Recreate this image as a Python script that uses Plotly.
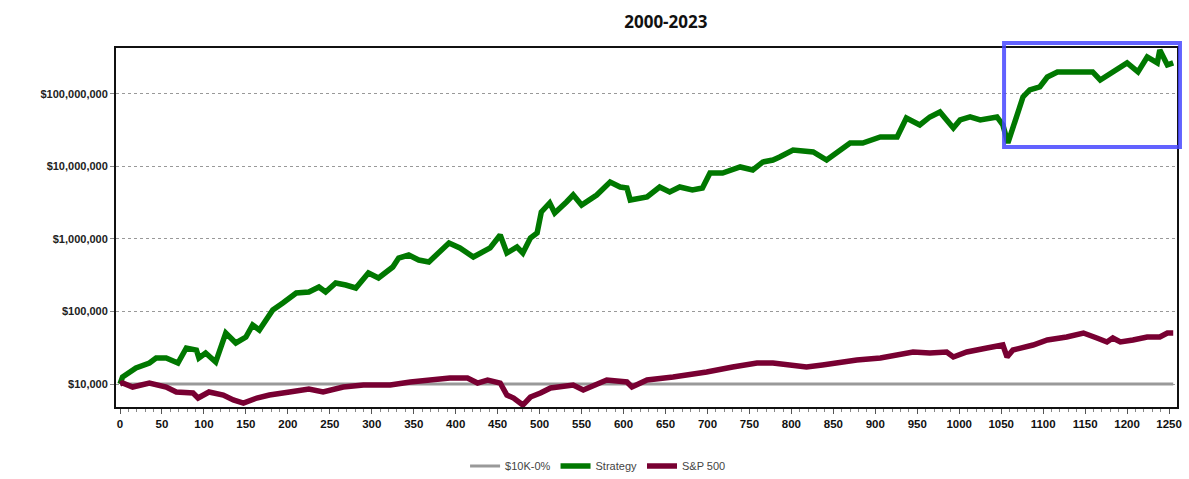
import plotly.graph_objects as go

# ---- data ----
strategy_x = [0, 3, 19, 35, 43, 55, 69, 79, 91, 94,
              102, 114, 126, 138, 150, 158, 166, 182, 194, 210,
              225, 237, 245, 257, 269, 281, 296, 308, 325, 332,
              344, 356, 368, 380, 392, 405, 421, 441, 453, 461,
              473, 480, 489, 497, 502, 512, 518, 532, 540, 550,
              568, 584, 596, 604, 608, 628, 643, 655, 667, 682,
              694, 703, 718, 739, 754, 766, 778, 786, 802, 826,
              842, 870, 885, 906, 926, 937, 953, 965, 977, 993,
              1001, 1013, 1025, 1045, 1052, 1058, 1064, 1072, 1076, 1084,
              1096, 1105, 1117, 1136, 1159, 1168, 1183, 1200, 1213, 1224,
              1236, 1239, 1248, 1255]
strategy_y = [10000, 12500, 16600, 19500, 22800, 22800, 19500, 31400, 29400, 22800,
              26800, 20100, 50500, 36800, 44500, 65100, 55600, 105000, 131000, 180000,
              186000, 218000, 186000, 247000, 232000, 211000, 340000, 290000, 411000, 547000,
              601000, 513000, 482000, 641000, 881000, 752000, 565000, 752000, 1136000, 641000,
              776000, 641000, 1032000, 1210000, 2357000, 3138000, 2284000, 3238000, 4045000, 2944000,
              4045000, 6113000, 5214000, 5051000, 3451000, 3796000, 5214000, 4449000, 5214000, 4742000,
              5051000, 8135000, 8135000, 9842000, 8946000, 11540000, 12290000, 13520000, 16890000, 15850000,
              12290000, 21090000, 21090000, 25530000, 25530000, 46670000, 37360000, 48170000, 56460000, 33960000,
              43800000, 48170000, 43800000, 48170000, 37360000, 21090000, 35050000, 60140000, 90930000, 113600000,
              124900000, 171600000, 201100000, 201100000, 201100000, 156000000, 201100000, 267700000, 201100000, 323800000,
              267700000, 404500000, 251200000, 267700000]

sp_x = [0, 3, 15, 35, 55, 67, 87, 93, 106, 123,
        135, 147, 163, 178, 202, 225, 242, 266, 290, 322,
        346, 370, 393, 414, 426, 438, 453, 461, 469, 480,
        489, 501, 513, 540, 552, 580, 604, 610, 628, 659,
        679, 699, 730, 759, 778, 818, 837, 858, 878, 906,
        945, 965, 985, 993, 1009, 1033, 1052, 1057, 1064, 1088,
        1105, 1128, 1148, 1164, 1176, 1183, 1192, 1207, 1224, 1239,
        1248, 1255]
sp_y = [10000, 10320, 9090, 10320, 9090, 7760, 7510, 6410, 7760, 7050,
        6020, 5470, 6410, 7050, 7760, 8530, 7760, 9090, 9690, 9690,
        10660, 11360, 12100, 12100, 10320, 11360, 10320, 7050, 6410, 5130,
        6620, 7510, 8810, 9690, 8270, 11360, 10660, 9090, 11360, 12490,
        13310, 14640, 17160, 19480, 19480, 17160, 18290, 20110, 21430, 22830,
        27640, 26770, 27640, 23570, 27640, 31380, 34510, 23570, 29440, 34510,
        40450, 44500, 50510, 43100, 37960, 43100, 37960, 40450, 44500, 44500,
        50510, 50510]

flat_x = [0, 1255]
flat_y = [10000, 10000]

y_tickvals = [1e4, 1e5, 1e6, 1e7, 1e8]
y_ticktext = ["$10,000", "$100,000", "$1,000,000", "$10,000,000", "$100,000,000"]
x_tickvals = list(range(0, 1251, 50))

fig = go.Figure()
fig.add_trace(go.Scatter(x=flat_x, y=flat_y, mode="lines", name="$10K-0%",
                         line=dict(color="#999999", width=3)))
fig.add_trace(go.Scatter(x=strategy_x, y=strategy_y, mode="lines", name="Strategy",
                         line=dict(color="#007800", width=5.5)))
fig.add_trace(go.Scatter(x=sp_x, y=sp_y, mode="lines", name="S&P 500",
                         line=dict(color="#780032", width=5.5)))

fig.update_layout(
    width=1189, height=479,
    margin=dict(l=116, r=12, t=48, b=72, autoexpand=False),
    paper_bgcolor="white", plot_bgcolor="white",
    title=dict(text="<b>2000-2023</b>", x=0.56, xanchor="center", y=0.955, yanchor="middle",
               font=dict(family="Open Sans", size=17, color="#111111")),
    font=dict(family="Liberation Sans, Arial", size=11, color="#222222"),
    showlegend=True,
    legend=dict(orientation="h", xref="container", x=0.503, xanchor="center",
                yref="container", y=0.027, yanchor="middle",
                font=dict(family="Liberation Sans, Arial", size=11, color="#444444"),
                itemwidth=30, tracegroupgap=0),
    xaxis=dict(range=[-4.8, 1259.5], tickvals=x_tickvals, showgrid=False, zeroline=False,
               showline=True, linecolor="#111111", linewidth=2, mirror=True,
               ticks="outside", ticklen=5, tickcolor="#555555",
               minor=dict(dtick=10, ticks="outside", ticklen=3, tickcolor="#888888"),
               tickfont=dict(family="Liberation Sans, Arial", size=11.5, color="#111111", weight="bold")),
    yaxis=dict(type="log", range=[3.683, 8.634], tickvals=y_tickvals, ticktext=y_ticktext,
               showgrid=True, gridcolor="#999999", griddash="dot", gridwidth=1, zeroline=False,
               showline=True, linecolor="#111111", linewidth=2, mirror=True,
               ticks="outside", ticklen=4, tickcolor="#888888",
               tickfont=dict(family="Liberation Sans, Arial", size=11, color="#222222", weight="bold")),
)

fig.add_shape(type="rect", xref="paper", yref="paper", x0=0.837, x1=1.0028, y0=0.724, y1=1.0139,
              line=dict(color="rgba(70,70,255,0.85)", width=4), fillcolor="rgba(0,0,0,0)")

fig.write_html("out.html", config={"displayModeBar": False})

# remove the browser's default body margin so the figure sits at the page origin
with open("out.html", "r", encoding="utf-8") as f:
    html = f.read()
html = html.replace("<body>", '<body style="margin:0;padding:0;overflow:hidden">', 1)
with open("out.html", "w", encoding="utf-8") as f:
    f.write(html)
